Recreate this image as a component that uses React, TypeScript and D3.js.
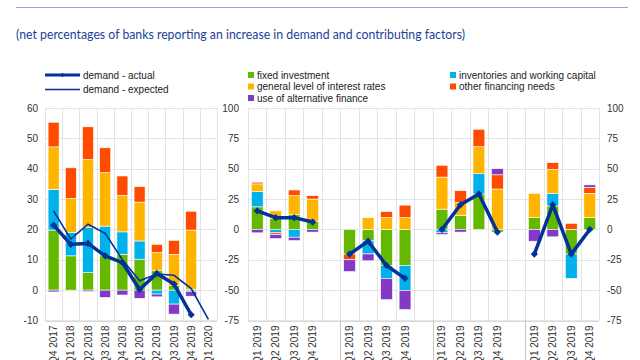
import * as d3 from 'd3';

// left panel: euro area, actual and expected demand + factors
const leftCats = ['Q4 2017', 'Q1 2018', 'Q2 2018', 'Q3 2018', 'Q4 2018', 'Q1 2019', 'Q2 2019', 'Q3 2019', 'Q4 2019', 'Q1 2020'];
const leftFixed = [19.8, 11.3, 5.8, 11.3, 11.8, 10.2, 6.4, 1.6, 0.3];
const leftInventories = [13.4, 7.7, 14.8, 9.8, 7.4, 6.0, -1.3, -4.6, -0.4];
const leftRates = [14.0, 11.2, 22.4, 17.6, 12.0, 12.8, 6.0, 10.2, 19.5];
const leftOther = [8.1, 10.1, 10.8, 8.2, 6.4, 5.1, 2.7, 4.6, 6.2];
const leftAlternative = [-0.6, 0, -0.5, -2.4, -1.6, -2.7, -0.9, -3.3, -1.6];
const demandActual = [21.4, 15.1, 15.4, 11.3, 9.1, 0.2, 5.5, 2.0, -8.1];
const demandExpected = [26.1, 16.8, 21.7, 18.7, 10.0, 3.1, 5.3, 4.9, 0.5, -9.6];
const leftTicks = [-10, 0, 10, 20, 30, 40, 50, 60];

// right panel: four countries, quarters of 2019
const countries = ['DE', 'FR', 'IT', 'ES'];
const quarters = ['Q1 2019', 'Q2 2019', 'Q3 2019', 'Q4 2019'];
const rightFixed = [18.6, 8.9, 12.5, 6.4, -20.3, -9.4, -29.7, -29.7, 16.7, 11.7, 29.2, -2.2, 9.7, 19.4, -20.3, 9.7];
const rightInventories = [12.5, -2.8, -6.4, 0, 0, -10.8, -10.6, -20.5, -2.8, 0, 16.7, 0, 0, 10.3, -20.0, 0];
const rightRates = [6.4, 6.4, 15.3, 18.6, 0, 9.7, 9.7, 9.7, 26.4, 10.5, 22.2, 33.3, 20.0, 19.7, 0, 20.0];
const rightOther = [1.4, -1.4, 4.7, 2.8, -4.7, 0, 5.0, 10.3, 9.7, 9.7, 14.4, 11.7, 0, 5.6, 5.0, 5.0];
const rightAlternative = [-2.8, -3.3, -2.8, -2.2, -9.7, -5.6, -17.5, -15.8, -1.4, -2.2, 0, 5.0, -9.7, -6.1, 0, 2.0];
const rightDemand = [15.3, 9.7, 9.7, 6.1, -20.3, -9.7, -29.7, -40.3, 0, 20.3, 29.2, -2.2, -20.3, 20.3, -20.3, 0];
const rightTicks = [-75, -50, -25, 0, 25, 50, 75, 100];

const factorKeys = ['fixed', 'inventories', 'rates', 'other', 'alternative'];
const factorNames: Record<string, string> = {
  fixed: 'fixed investment',
  inventories: 'inventories and working capital',
  rates: 'general level of interest rates',
  other: 'other financing needs',
  alternative: 'use of alternative finance',
};
const colors: Record<string, string> = {
  fixed: '#65b800',
  inventories: '#00b1ea',
  rates: '#ffb400',
  other: '#ff4b00',
  alternative: '#8139c6',
};
const navy = '#003299';
const font = '"Liberation Sans", Arial, sans-serif';

const top = 108;
const bottom = 320.5;

export default function App() {
  // ---- left panel scales
  const xL = d3.scaleBand<string>().domain(leftCats).range([45, 217]);
  const yL = d3.scaleLinear().domain([-10, 60]).range([bottom, top]);
  const leftRows = leftFixed.map((_, i) => ({
    cat: leftCats[i],
    fixed: leftFixed[i],
    inventories: leftInventories[i],
    rates: leftRates[i],
    other: leftOther[i],
    alternative: leftAlternative[i],
  }));

  // ---- right panel: slots with a blank spacer between countries
  const slots: string[] = [];
  countries.forEach((c, gi) => {
    if (gi > 0) slots.push('gap' + gi);
    quarters.forEach(q => slots.push(c + '|' + q));
  });
  const xR = d3.scaleBand<string>().domain(slots).range([248, 599]);
  const yR = d3.scaleLinear().domain([-75, 100]).range([bottom, top]);
  const rightRows: any[] = [];
  countries.forEach((c, gi) =>
    quarters.forEach((q, qi) => {
      const i = gi * 4 + qi;
      rightRows.push({
        cat: c + '|' + q,
        fixed: rightFixed[i],
        inventories: rightInventories[i],
        rates: rightRates[i],
        other: rightOther[i],
        alternative: rightAlternative[i],
        demand: rightDemand[i],
      });
    })
  );

  const stack = d3.stack<any>().keys(factorKeys).offset(d3.stackOffsetDiverging);
  const leftStack = stack(leftRows);
  const rightStack = stack(rightRows);

  const diamond = d3.symbol(d3.symbolSquare, 26)() as string;

  const lineL = d3.line<number>().x((_, i) => xL(leftCats[i])! + xL.bandwidth() / 2).y(d => yL(d));

  const bars = (series: any[], x: d3.ScaleBand<string>, y: d3.ScaleLinear<number, number>, frac: number) =>
    series.map(s => (
      <g key={s.key} fill={colors[s.key]}>
        {s.map((d: any, i: number) =>
          d[1] - d[0] === 0 ? null : (
            <rect
              key={i}
              x={x(d.data.cat)! + (x.bandwidth() * (1 - frac)) / 2}
              width={x.bandwidth() * frac}
              y={y(Math.max(d[0], d[1]))}
              height={Math.abs(y(d[0]) - y(d[1]))}
              stroke="#fff"
              strokeWidth={0.6}
            />
          )
        )}
      </g>
    ));

  const grid = (x: d3.ScaleBand<string>, y: d3.ScaleLinear<number, number>, ticks: number[]) => {
    const [x0, x1] = x.range();
    const edges = [...x.domain().map(c => x(c)!), x1];
    return (
      <g stroke="#e3e3e3" strokeWidth={1}>
        {ticks.map(t => (
          <line key={'h' + t} x1={x0} x2={x1} y1={Math.round(y(t)) + 0.5} y2={Math.round(y(t)) + 0.5} />
        ))}
        {edges.map((e, i) => (
          <line key={'v' + i} x1={Math.round(e) + 0.5} x2={Math.round(e) + 0.5} y1={top} y2={bottom} />
        ))}
      </g>
    );
  };

  const catLabel = (key: string, x: number, text: string) => (
    <text
      key={key}
      transform={`translate(${x},${bottom + 5}) rotate(-90)`}
      textAnchor="end"
      dy="0.35em"
      fontSize={10}
      fill="#333"
    >
      {text}
    </text>
  );

  return (
    <svg width={640} height={360} style={{ position: 'absolute', left: 0, top: 0, background: '#fff' }} fontFamily={font}>
      <line x1={16} x2={628} y1={7.5} y2={7.5} stroke="#93a9d8" strokeWidth={1} />
      <text x={16} y={39} fontFamily="Lato, 'Open Sans', sans-serif" fontSize={12.5} fill="#1d3f99" textLength={449} lengthAdjust="spacingAndGlyphs">
        (net percentages of banks reporting an increase in demand and contributing factors)
      </text>

      {/* legend: lines */}
      <g fontSize={10} fill="#222">
        <line x1={45} x2={80} y1={75} y2={75} stroke={navy} strokeWidth={3.2} />
        <path d={diamond} transform="translate(62.5,75) rotate(45) scale(0.6)" fill={navy} />
        <text x={83} y={78.5}>demand - actual</text>
        <line x1={45} x2={80} y1={89.5} y2={89.5} stroke={navy} strokeWidth={1.5} />
        <text x={83} y={93}>demand - expected</text>
      </g>
      {/* legend: factors */}
      <g fontSize={10} fill="#222">
        {[
          ['fixed', 248, 75],
          ['rates', 248, 86.5],
          ['alternative', 248, 98],
          ['inventories', 450, 75],
          ['other', 450, 86.5],
        ].map(([k, lx, ly]) => (
          <g key={k as string} transform={`translate(${lx},${ly})`}>
            <rect x={0} y={-3} width={6} height={6} fill={colors[k as string]} />
            <text x={9} y={3.5}>{factorNames[k as string]}</text>
          </g>
        ))}
      </g>

      {/* left panel */}
      {grid(xL, yL, leftTicks)}
      <line x1={45} x2={217} y1={bottom + 0.5} y2={bottom + 0.5} stroke="#cfcfcf" />
      {bars(leftStack, xL, yL, 0.64)}
      <path d={lineL(demandExpected) ?? ''} fill="none" stroke={navy} strokeWidth={1.6} />
      <path d={lineL(demandActual) ?? ''} fill="none" stroke={navy} strokeWidth={3.5} strokeLinejoin="round" />
      {demandActual.map((v, i) => (
        <path key={i} d={diamond} transform={`translate(${xL(leftCats[i])! + xL.bandwidth() / 2},${yL(v)}) rotate(45)`} fill={navy} />
      ))}
      <g fontSize={10} fill="#333" textAnchor="end">
        {leftTicks.map(t => (
          <text key={t} x={38} y={yL(t)} dy="0.35em">{t}</text>
        ))}
      </g>
      {leftCats.map(c => catLabel('l' + c, xL(c)! + xL.bandwidth() / 2, c))}

      {/* right panel */}
      {grid(xR, yR, rightTicks)}
      <line x1={248} x2={599} y1={bottom + 0.5} y2={bottom + 0.5} stroke="#cfcfcf" />
      {countries.map((c, gi) => {
        const sx = Math.round(xR(c + '|' + quarters[0])!) + 0.5;
        return gi === 0 ? null : <line key={'sep' + c} x1={sx} x2={sx} y1={bottom} y2={360} stroke="#c4c4c4" />;
      })}
      {bars(rightStack, xR, yR, 0.64)}
      {countries.map(c => {
        const rows = rightRows.filter(r => r.cat.startsWith(c + '|'));
        const line = d3
          .line<any>()
          .x(r => xR(r.cat)! + xR.bandwidth() / 2)
          .y(r => yR(r.demand));
        return (
          <g key={'d' + c}>
            <path d={line(rows) ?? ''} fill="none" stroke={navy} strokeWidth={3.5} strokeLinejoin="round" />
            {rows.map(r => (
              <path key={r.cat} d={diamond} transform={`translate(${xR(r.cat)! + xR.bandwidth() / 2},${yR(r.demand)}) rotate(45)`} fill={navy} />
            ))}
          </g>
        );
      })}
      <g fontSize={10} fill="#333">
        {rightTicks.map(t => (
          <text key={'a' + t} x={239} y={yR(t)} dy="0.35em" textAnchor="end">{t}</text>
        ))}
        {rightTicks.map(t => (
          <text key={'b' + t} x={607} y={yR(t)} dy="0.35em">{t}</text>
        ))}
      </g>
      {rightRows.map(r => catLabel('r' + r.cat, xR(r.cat)! + xR.bandwidth() / 2, r.cat.split('|')[1]))}
    </svg>
  );
}
